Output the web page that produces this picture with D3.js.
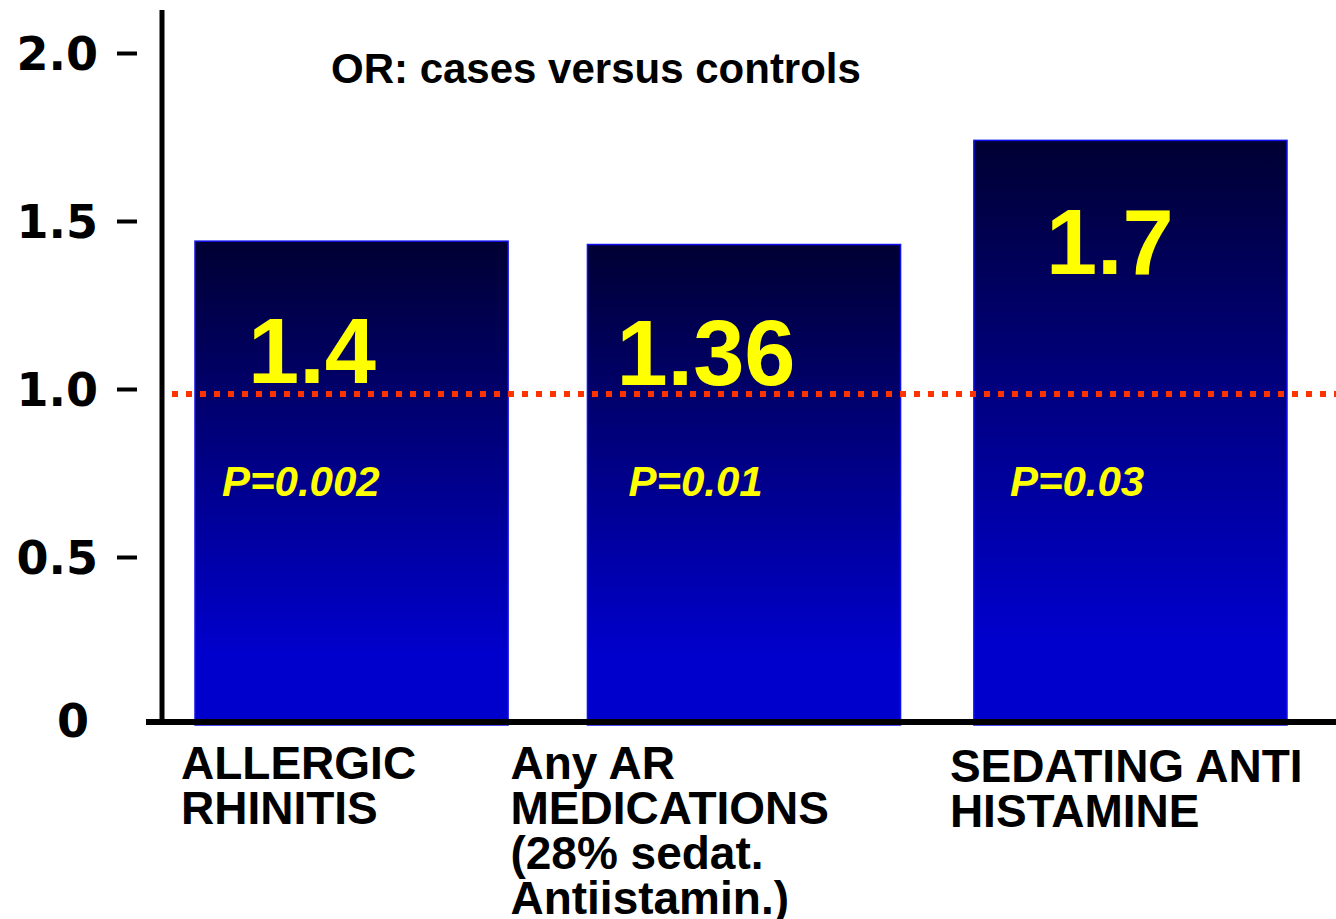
<!DOCTYPE html>
<html>
<head>
<meta charset="utf-8">
<script src="https://cdn.jsdelivr.net/npm/d3@7"></script>
<style>
  html, body { margin: 0; padding: 0; background: #fff; }
  svg { display: block; }
</style>
</head>
<body>
<svg id="chart" width="1336" height="919"></svg>
<script>
// ---- data ----
const categories = [
  ["ALLERGIC", "RHINITIS"],
  ["Any AR", "MEDICATIONS", "(28% sedat.", "Antiistamin.)"],
  ["SEDATING ANTI", "HISTAMINE"]
];
const barValues = [1.44, 1.43, 1.74];
const valueLabels = ["1.4", "1.36", "1.7"];
const pLabels = ["P=0.002", "P=0.01", "P=0.03"];
const yTicks = [0, 0.5, 1.0, 1.5, 2.0];
const yTickLabels = ["0", "0.5", "1.0", "1.5", "2.0"];
const refValue = 0.985;
const title = "OR: cases versus controls";

// ---- layout ----
const W = 1336, H = 919;
const sans = "'Liberation Sans', Arial, Helvetica, sans-serif";
const svg = d3.select("#chart");

const y = d3.scaleLinear().domain([0, 2]).range([725, 53]);
const x = d3.scaleBand().domain(d3.range(barValues.length))
  .range([195, 1287]).paddingInner(0.196).paddingOuter(0);
// small per-bar horizontal nudges seen in the reference
const barNudge = [0, 3, 0];
const bx = i => x(i) + barNudge[i];

// gradient
const defs = svg.append("defs");
const grad = defs.append("linearGradient").attr("id", "barGrad")
  .attr("x1", 0).attr("y1", 0).attr("x2", 0).attr("y2", 1);
grad.append("stop").attr("offset", 0).attr("stop-color", "#000033");
grad.append("stop").attr("offset", 0.85).attr("stop-color", "#0000cc");
grad.append("stop").attr("offset", 1).attr("stop-color", "#0000cc");

// bars
svg.append("g").selectAll("rect").data(barValues).join("rect")
  .attr("x", (d, i) => bx(i))
  .attr("y", d => y(d))
  .attr("width", x.bandwidth())
  .attr("height", d => y(0) - y(d))
  .attr("fill", "url(#barGrad)")
  .attr("stroke", "#1010ee")
  .attr("stroke-width", 1.5);

// reference dotted line
svg.append("line")
  .attr("x1", 172).attr("x2", W)
  .attr("y1", y(refValue)).attr("y2", y(refValue))
  .attr("stroke", "#ff3300")
  .attr("stroke-width", 6)
  .attr("stroke-dasharray", "6 8");

// value labels (per-bar offsets from bar left / bar top)
const valDx = [53, 29, 72];
const valDy = [142, 140, 134];
svg.append("g").selectAll("text").data(valueLabels).join("text")
  .attr("x", (d, i) => bx(i) + valDx[i])
  .attr("y", (d, i) => y(barValues[i]) + valDy[i])
  .attr("font-family", sans)
  .attr("font-weight", "bold")
  .attr("font-size", 92)
  .attr("fill", "#ffff00")
  .text(d => d);

// p labels
const pDx = [27, 41, 36];
svg.append("g").selectAll("text").data(pLabels).join("text")
  .attr("x", (d, i) => bx(i) + pDx[i])
  .attr("y", 496)
  .attr("font-family", sans)
  .attr("font-weight", "bold")
  .attr("font-style", "italic")
  .attr("font-size", 42)
  .attr("fill", "#ffff00")
  .text(d => d);

// y axis with dashes
const yAxis = d3.axisLeft(y)
  .tickValues(yTicks)
  .tickFormat((d, i) => yTickLabels[i])
  .tickSize(20)
  .tickPadding(19);
const gy = svg.append("g").attr("transform", "translate(137,0)").call(yAxis);
gy.select(".domain").remove();
gy.selectAll(".tick line").attr("stroke", "#000").attr("stroke-width", 4);
gy.selectAll(".tick text")
  .attr("font-family", "'DejaVu Sans', Verdana, sans-serif")
  .attr("font-weight", "bold")
  .attr("font-size", 46)
  .attr("fill", "#000")
  .attr("dy", "0.36em");
gy.selectAll(".tick").filter(d => d === 0).select("line").remove();
gy.selectAll(".tick").filter(d => d === 0).select("text")
  .attr("x", -48).attr("dy", "0.24em");

// axis lines
svg.append("line").attr("x1", 162).attr("x2", 162).attr("y1", 10).attr("y2", 725)
  .attr("stroke", "#000").attr("stroke-width", 5);
svg.append("line").attr("x1", 146).attr("x2", W).attr("y1", 722).attr("y2", 722)
  .attr("stroke", "#000").attr("stroke-width", 6);

// title
svg.append("text")
  .attr("x", 331).attr("y", 83)
  .attr("font-family", sans).attr("font-weight", "bold").attr("font-size", 42)
  .attr("fill", "#000")
  .text(title);

// category labels
const catDx = [-14, -77, -24];
const catY0 = [779, 779, 782];
const cg = svg.append("g");
categories.forEach((lines, i) => {
  const t = cg.append("text")
    .attr("font-family", sans).attr("font-weight", "bold").attr("font-size", 46)
    .attr("fill", "#000");
  lines.forEach((ln, j) => {
    t.append("tspan")
      .attr("x", bx(i) + catDx[i])
      .attr("y", catY0[i] + j * 45)
      .text(ln);
  });
});
</script>
</body>
</html>
